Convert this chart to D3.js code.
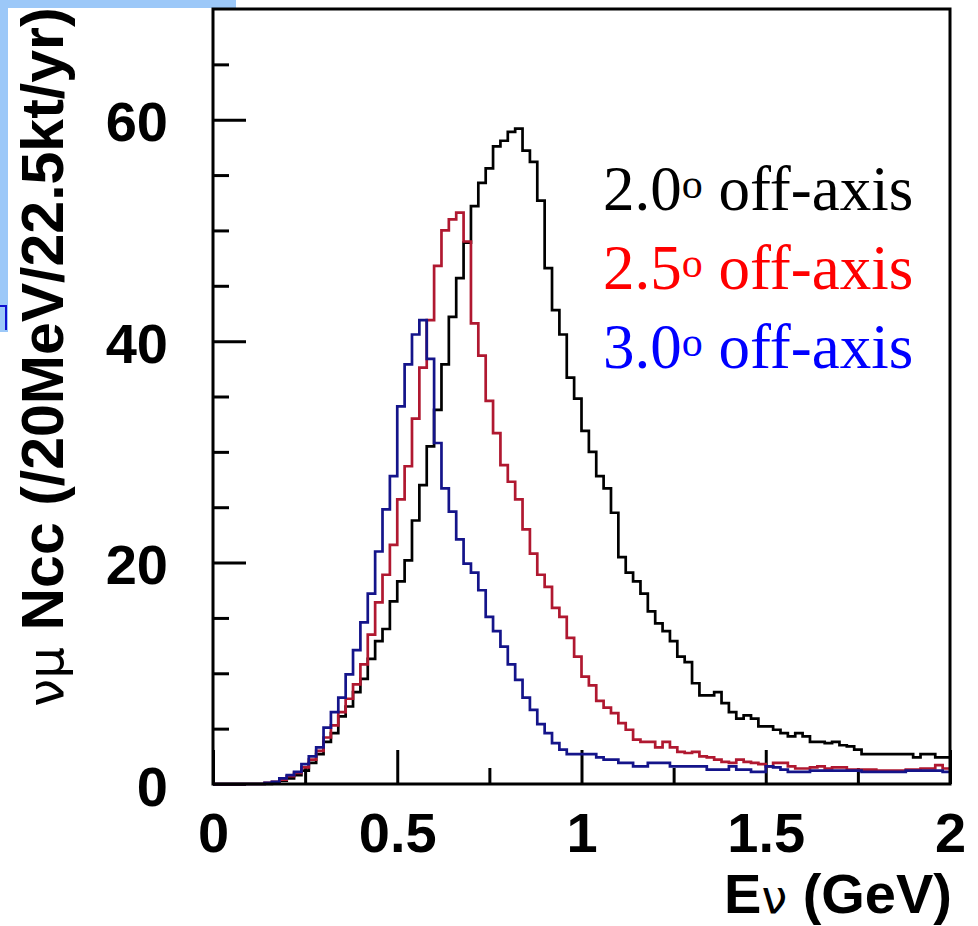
<!DOCTYPE html>
<html>
<head>
<meta charset="utf-8">
<title>numu Ncc off-axis spectra</title>
<script src="https://cdn.jsdelivr.net/npm/d3@7"></script>
<style>
  body { margin: 0; background: #fff; }
  svg { display: block; }
</style>
</head>
<body>
<svg id="chart" width="978" height="926"></svg>
<script>

// 20 MeV bins from 0 to 2 GeV
var binWidth = 0.02
var binLow = d3.range(0, 100).map(function(i){ return +(i * binWidth).toFixed(2) })

// numu Ncc per bin, 2.0 deg off-axis (black)
var ncc20 = [
  0, 0, 0, 0, 0, 0, 0, 0, 0.1, 0.3,
  0.5, 0.8, 1.2, 1.9, 2.7, 3.8, 4.6, 6.1, 7.0, 8.3,
  9.5, 11.3, 12.9, 14.0, 16.5, 18.3, 20.2, 23.8, 27.0, 30.5,
  33.8, 37.9, 42.2, 45.7, 48.9, 52.2, 54.3, 55.6, 57.6, 58.1,
  58.9, 59.2, 57.2, 56.2, 52.7, 46.6, 42.8, 40.6, 36.7, 34.8,
  31.9, 30.0, 27.8, 26.7, 24.5, 20.5, 19.1, 18.3, 17.2, 15.6,
  14.5, 13.8, 12.9, 11.5, 11.0, 9.1, 8.0, 8.0, 8.3, 7.3,
  6.5, 5.9, 6.2, 5.9, 5.2, 5.2, 4.9, 4.6, 4.3, 4.6,
  4.3, 3.8, 3.8, 3.7, 3.8, 3.5, 3.4, 3.1, 2.7, 2.7,
  2.7, 2.7, 2.7, 2.7, 2.7, 2.4, 2.7, 2.7, 2.4, 2.4
]

// 2.5 deg off-axis (red)
var ncc25 = [
  0, 0, 0, 0, 0, 0, 0, 0.1, 0.2, 0.4,
  0.7, 1.0, 1.5, 2.2, 3.0, 4.2, 5.3, 6.5, 7.7, 9.0,
  10.8, 13.5, 16.4, 18.9, 21.6, 25.7, 28.7, 33.0, 37.6, 41.9,
  46.8, 50.0, 51.0, 51.6, 49.0, 41.6, 38.7, 34.6, 31.7, 28.8,
  27.3, 25.7, 23.0, 20.8, 18.9, 17.8, 15.9, 15.1, 13.2, 11.5,
  9.7, 8.9, 7.5, 6.9, 6.4, 5.5, 4.9, 4.0, 3.8, 3.8,
  3.3, 3.8, 3.3, 2.9, 2.8, 2.9, 2.5, 2.4, 2.2, 2.0,
  1.9, 2.2, 2.0, 1.9, 1.8, 1.6, 1.9, 1.9, 1.6, 1.4,
  1.4, 1.5, 1.6, 1.4, 1.5, 1.5, 1.3, 1.3, 1.3, 1.3,
  1.2, 1.2, 1.2, 1.2, 1.3, 1.3, 1.4, 1.4, 1.7, 1.4
]

// 3.0 deg off-axis (blue)
var ncc30 = [
  0, 0, 0, 0, 0, 0, 0, 0.1, 0.2, 0.5,
  0.8, 1.1, 1.8, 2.5, 3.3, 5.1, 6.5, 7.8, 9.9, 12.1,
  14.6, 17.2, 21.0, 24.8, 27.8, 34.1, 37.9, 40.6, 41.9, 38.4,
  30.8, 26.7, 24.6, 22.1, 19.9, 19.1, 17.5, 15.1, 13.8, 12.4,
  10.8, 9.4, 7.8, 6.7, 5.4, 4.6, 3.7, 3.1, 2.7, 2.7,
  2.7, 2.7, 2.4, 2.2, 2.2, 1.9, 1.9, 1.6, 1.6, 1.9,
  1.9, 1.9, 1.6, 1.6, 1.6, 1.6, 1.6, 1.3, 1.3, 1.3,
  1.6, 1.3, 1.3, 1.1, 1.1, 1.6, 1.5, 1.3, 1.1, 1.1,
  1.1, 1.2, 1.2, 1.2, 1.2, 1.2, 1.2, 1.2, 1.1, 1.1,
  1.1, 1.1, 1.1, 1.1, 1.2, 1.2, 1.2, 1.2, 1.2, 1.1
]

var xMajor = [0, 0.5, 1, 1.5, 2]
var xMinor = [0.25, 0.75, 1.25, 1.75]
var xLabels = ['0', '0.5', '1', '1.5', '2']
var yMajor = [0, 20, 40, 60]
var yMinor = [5, 10, 15, 25, 30, 35, 45, 50, 55, 65]
var yLabels = ['0', '20', '40', '60']

var legendAngle = ['2.0', '2.5', '3.0']
var legendText = 'off-axis'
var legendColor = ['#000000', '#ff0000', '#0000ff']

function drawChart() {

  var series = [
    { values: ncc20, color: '#000000' },
    { values: ncc25, color: '#b01830' },
    { values: ncc30, color: '#14148a' }
  ]

  var svg = d3.select('#chart')

  // bits of the page frame the figure was cut from
  svg.append('path')
    .attr('d', 'M0,0 H236 V8 H8 V332 H0 Z')
    .attr('fill', '#9cc8f8')
  svg.append('path')
    .attr('d', 'M0,306 H6 V330')
    .attr('fill', 'none').attr('stroke', '#1010d0').attr('stroke-width', 2)

  var fLeft = 213, fRight = 950, fTop = 9, fBottom = 784

  var x = d3.scaleLinear().domain([0, 2]).range([fLeft, fRight])
  var y = d3.scaleLinear().domain([0, 70]).range([fBottom, fTop])

  var sansBold = function(sel){
    sel.attr('font-family', '"Liberation Sans", Arial, Helvetica, sans-serif')
       .attr('font-weight', 'bold').attr('font-size', 56).attr('fill', '#000')
  }

  // x axis: long major ticks, short minor ticks, pointing into the frame
  var gx = svg.append('g').attr('transform', 'translate(0,' + fBottom + ')')
  gx.call(d3.axisBottom(x).tickValues(xMajor).tickSize(-34).tickPadding(28)
    .tickFormat(function(d, i){ return xLabels[i] }))
  gx.append('g').call(d3.axisBottom(x).tickValues(xMinor).tickSize(-16).tickFormat(''))
  gx.selectAll('.domain').remove()

  var gy = svg.append('g').attr('transform', 'translate(' + fLeft + ',0)')
  gy.call(d3.axisLeft(y).tickValues(yMajor).tickSize(-33).tickPadding(45)
    .tickFormat(function(d, i){ return yLabels[i] }))
  gy.append('g').call(d3.axisLeft(y).tickValues(yMinor).tickSize(-16).tickFormat(''))
  gy.selectAll('.domain').remove()

  svg.selectAll('.tick line').attr('stroke', '#000').attr('stroke-width', 3)
  svg.selectAll('.tick text').call(sansBold)
  gy.selectAll('.tick text').attr('dy', '0.38em')

  // histograms
  var step = d3.line()
    .x(function(d){ return x(d[0]) })
    .y(function(d){ return y(d[1]) })
    .curve(d3.curveStepAfter)

  series.forEach(function(s){
    var pts = binLow.map(function(b, i){ return [b, s.values[i]] })
    pts.push([2, s.values[s.values.length - 1]])
    svg.append('path')
      .attr('d', step(pts))
      .attr('fill', 'none')
      .attr('stroke', s.color)
      .attr('stroke-width', 2.7)
  })

  // frame
  svg.append('rect')
    .attr('x', fLeft).attr('y', fTop)
    .attr('width', fRight - fLeft).attr('height', fBottom - fTop)
    .attr('fill', 'none').attr('stroke', '#000').attr('stroke-width', 3)

  // legend
  legendAngle.forEach(function(a, i){
    var t = svg.append('text')
      .attr('x', 603).attr('y', 210 + i * 79)
      .attr('font-family', '"Liberation Serif", "Times New Roman", Times, serif')
      .attr('font-size', 63).attr('fill', legendColor[i])
    t.append('tspan').text(a)
    t.append('tspan').attr('font-size', 42).attr('dy', -12).text('o')
    t.append('tspan').attr('dy', 12).text(' ' + legendText)
  })

  // axis titles
  var xt = svg.append('text')
    .attr('x', 952).attr('y', 913).attr('text-anchor', 'end')
    .call(sansBold)
  xt.append('tspan').text('E')
  xt.append('tspan').attr('font-weight', 'normal').attr('font-size', 46)
    .attr('font-family', '"DejaVu Sans", sans-serif').text('\u03bd')
  xt.append('tspan').text(' (GeV)')

  var yt = svg.append('text')
    .attr('transform', 'translate(63,357) rotate(-90)')
    .attr('text-anchor', 'middle')
    .call(sansBold)
    .attr('font-size', 59)
  yt.append('tspan').attr('font-weight', 'normal').attr('font-size', 50)
    .attr('font-family', '"DejaVu Sans", sans-serif').text('\u03bd\u03bc')
  yt.append('tspan').text(' Ncc (/20MeV/22.5kt/yr)')
}

drawChart()

</script>
</body>
</html>
